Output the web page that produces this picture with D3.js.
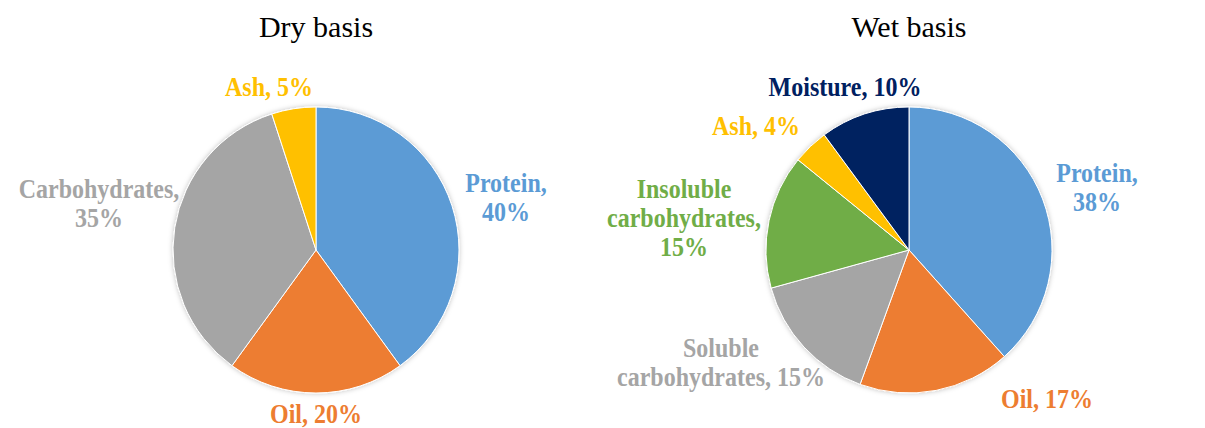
<!DOCTYPE html>
<html>
<head>
<meta charset="utf-8">
<script src="https://cdn.jsdelivr.net/npm/d3@7"></script>
<style>
  html, body { margin: 0; padding: 0; background: #fff; }
  svg { display: block; }
  .title { font-family: "Liberation Serif", "Times New Roman", serif; font-size: 30px; fill: #000; }
  .lbl { font-family: "Liberation Serif", "Times New Roman", serif; font-size: 24px; font-weight: bold; }
</style>
</head>
<body>
<div id="chart"></div>
<script>
// Dry basis composition (%)
const dryCategories = ['Protein', 'Oil', 'Carbohydrates', 'Ash'];
const dryValues = [40, 20, 35, 5];

// Wet basis composition (%)
const wetCategories = ['Protein', 'Oil', 'Soluble carbohydrates', 'Insoluble carbohydrates', 'Ash', 'Moisture'];
const wetValues = [38, 17, 15, 15, 4, 10];

const titles = ['Dry basis', 'Wet basis'];

const colors = {
  'Protein': '#5b9bd5',
  'Oil': '#ed7d31',
  'Carbohydrates': '#a5a5a5',
  'Soluble carbohydrates': '#a5a5a5',
  'Insoluble carbohydrates': '#70ad47',
  'Ash': '#ffc000',
  'Moisture': '#002060'
};

// label placement relative to pie centre: [dx, first baseline dy, words per line]
const dryLabels = {
  'Protein': [190, -58, [1, 1]],
  'Oil': [0, 173, [2]],
  'Carbohydrates': [-217, -52, [1, 1]],
  'Ash': [-47, -154, [2]]
};
const wetLabels = {
  'Protein': [188, -68, [1, 1]],
  'Oil': [138, 158, [2]],
  'Soluble carbohydrates': [-188, 107, [1, 2]],
  'Insoluble carbohydrates': [-225, -52, [1, 1, 1]],
  'Ash': [-153, -115, [2]],
  'Moisture': [-64, -154, [2]]
};

const width = 1205, height = 428;
const radius = 143;
const lineGap = 29;

const svg = d3.select('#chart').append('svg')
  .attr('width', width)
  .attr('height', height);

const defs = svg.append('defs');
defs.append('filter')
  .attr('id', 'shadow')
  .attr('x', '-10%').attr('y', '-10%').attr('width', '120%').attr('height', '120%')
  .append('feDropShadow')
  .attr('dx', 0).attr('dy', 0)
  .attr('stdDeviation', 2.5)
  .attr('flood-color', '#000')
  .attr('flood-opacity', 0.25);

const pie = d3.pie().sort(null).value(d => d.value);
const arc = d3.arc().innerRadius(0).outerRadius(radius);

const drawPie = (cx, cy, title, cats, vals, labels) => {
  const data = cats.map((c, i) => ({ name: c, value: vals[i] }));
  const g = svg.append('g').attr('transform', `translate(${cx}, ${cy})`);

  svg.append('text')
    .attr('class', 'title')
    .attr('x', cx)
    .attr('y', 37)
    .attr('text-anchor', 'middle')
    .text(title);

  g.append('g')
    .attr('filter', 'url(#shadow)')
    .selectAll('path')
    .data(pie(data))
    .join('path')
    .attr('d', arc)
    .attr('fill', d => colors[d.data.name])
    .attr('stroke', '#fff')
    .attr('stroke-width', 1);

  data.forEach(d => {
    const [dx, dy, split] = labels[d.name];
    const words = `${d.name}, ${d.value}%`.split(' ');
    let k = 0;
    const lines = split.map(n => { const s = words.slice(k, k + n).join(' '); k += n; return s; });
    if (k < words.length) lines[lines.length - 1] += ' ' + words.slice(k).join(' ');
    // glyphs in the original are a little taller than Times, stretch vertically
    g.selectAll(null)
      .data(lines)
      .join('text')
      .attr('class', 'lbl')
      .attr('text-anchor', 'middle')
      .attr('fill', colors[d.name])
      .attr('transform', (s, i) => `translate(${dx}, ${dy + i * lineGap}) scale(1, 1.12)`)
      .text(s => s);
  });
};

drawPie(316, 250, titles[0], dryCategories, dryValues, dryLabels);
drawPie(909, 250, titles[1], wetCategories, wetValues, wetLabels);
</script>
</body>
</html>
